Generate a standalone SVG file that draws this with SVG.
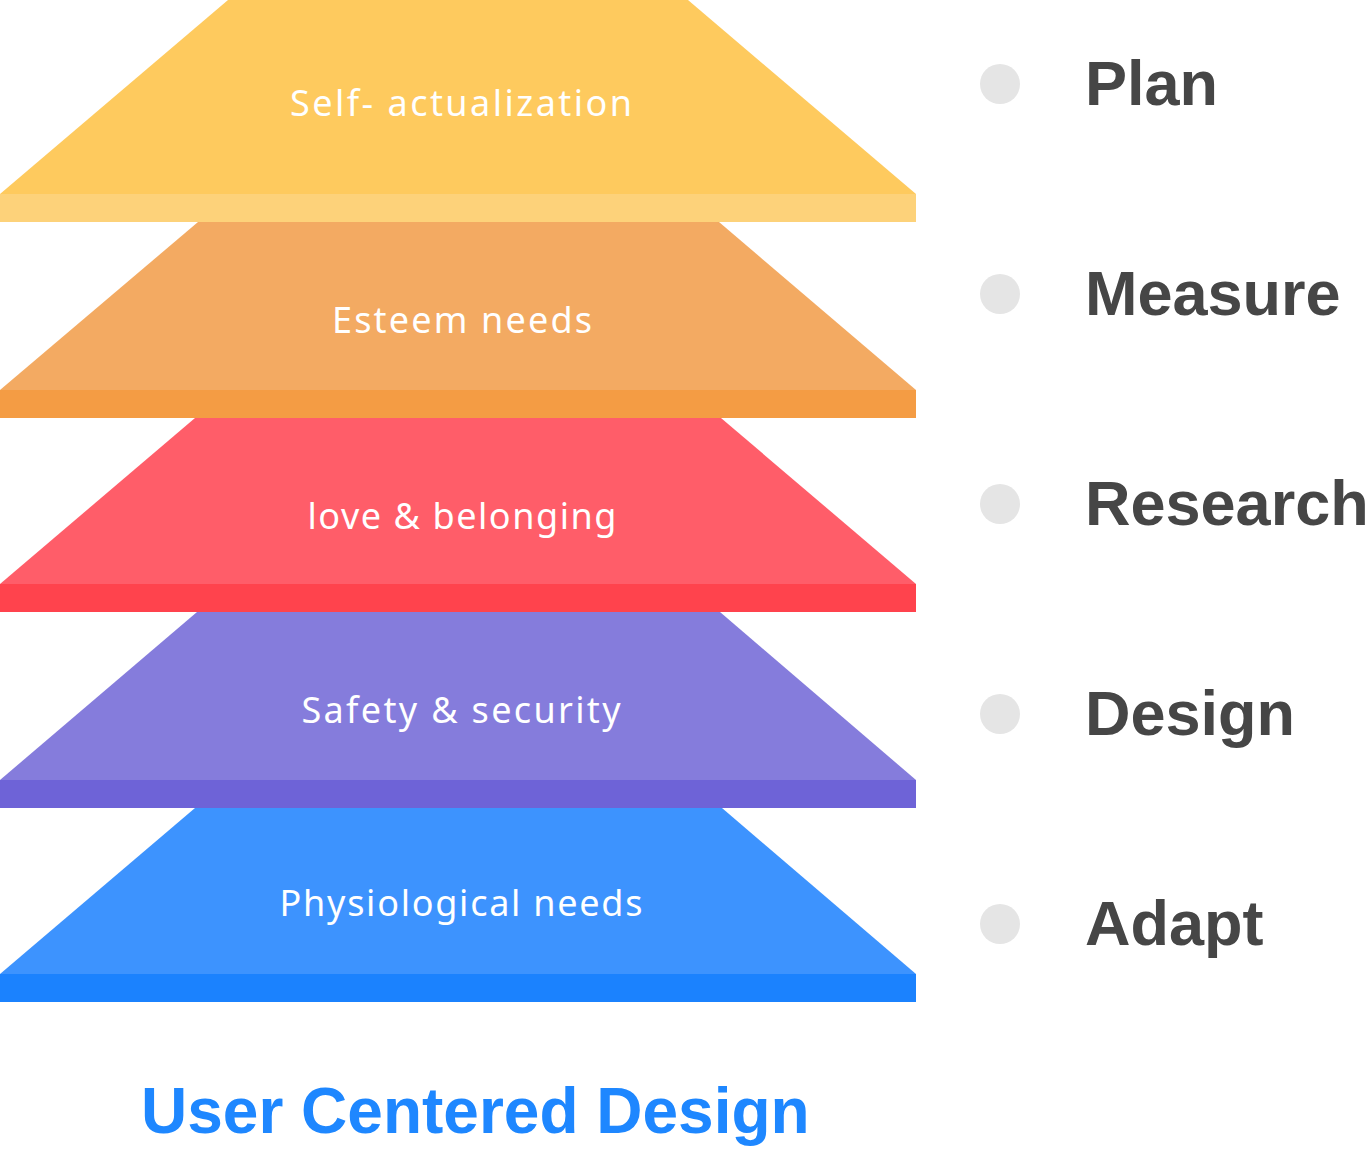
<svg xmlns="http://www.w3.org/2000/svg" width="1370" height="1156" viewBox="0 0 1370 1156">
<style>
.lbl{font-family:"Noto Sans","Liberation Sans",Arial,sans-serif;font-size:36px;fill:#ffffff;text-anchor:middle}
.step{font-family:"Liberation Sans",Arial,sans-serif;font-size:63px;font-weight:bold;fill:#464646}
.dot{fill:#e5e5e5}
.title{font-family:"Liberation Sans",Arial,sans-serif;font-size:64px;font-weight:bold;fill:#1e87ff}
</style>
<rect width="1370" height="1156" fill="#ffffff"/>
<g id="level-self-actualization">
<polygon points="228,0 688,0 916,194 0,194" fill="#feca5e"/>
<rect x="0" y="194" width="916" height="28" fill="#fdd27a"/>
<text class="lbl" x="461" y="116" textLength="342" lengthAdjust="spacing">Self- actualization</text>
</g>
<g id="level-esteem">
<polygon points="198,222 719,222 916,390 0,390" fill="#f3aa62"/>
<rect x="0" y="390" width="916" height="28" fill="#f49c44"/>
<text class="lbl" x="462" y="333" textLength="260" lengthAdjust="spacing">Esteem needs</text>
</g>
<g id="level-love">
<polygon points="195,418 721,418 916,584 0,584" fill="#ff5d69"/>
<rect x="0" y="584" width="916" height="28" fill="#ff434d"/>
<text class="lbl" x="462" y="529" textLength="309" lengthAdjust="spacing">love &amp; belonging</text>
</g>
<g id="level-safety">
<polygon points="197,612 720,612 916,780 0,780" fill="#857cdc"/>
<rect x="0" y="780" width="916" height="28" fill="#6e63d7"/>
<text class="lbl" x="461" y="723" textLength="319" lengthAdjust="spacing">Safety &amp; security</text>
</g>
<g id="level-physiological">
<polygon points="195,808 722,808 916,974 0,974" fill="#3d93fe"/>
<rect x="0" y="974" width="916" height="28" fill="#1b82fe"/>
<text class="lbl" x="461" y="916" textLength="363" lengthAdjust="spacing">Physiological needs</text>
</g>
<g id="step-plan"><circle class="dot" cx="1000" cy="84" r="20"/><text class="step" x="1085" y="105">Plan</text></g>
<g id="step-measure"><circle class="dot" cx="1000" cy="294" r="20"/><text class="step" x="1085" y="315">Measure</text></g>
<g id="step-research"><circle class="dot" cx="1000" cy="504" r="20"/><text class="step" x="1085" y="525">Research</text></g>
<g id="step-design"><circle class="dot" cx="1000" cy="714" r="20"/><text class="step" x="1085" y="735">Design</text></g>
<g id="step-adapt"><circle class="dot" cx="1000" cy="924" r="20"/><text class="step" x="1085" y="945">Adapt</text></g>
<g id="connectors"></g>
<g id="title"><text class="title" x="141" y="1133">User Centered Design</text></g>
</svg>
